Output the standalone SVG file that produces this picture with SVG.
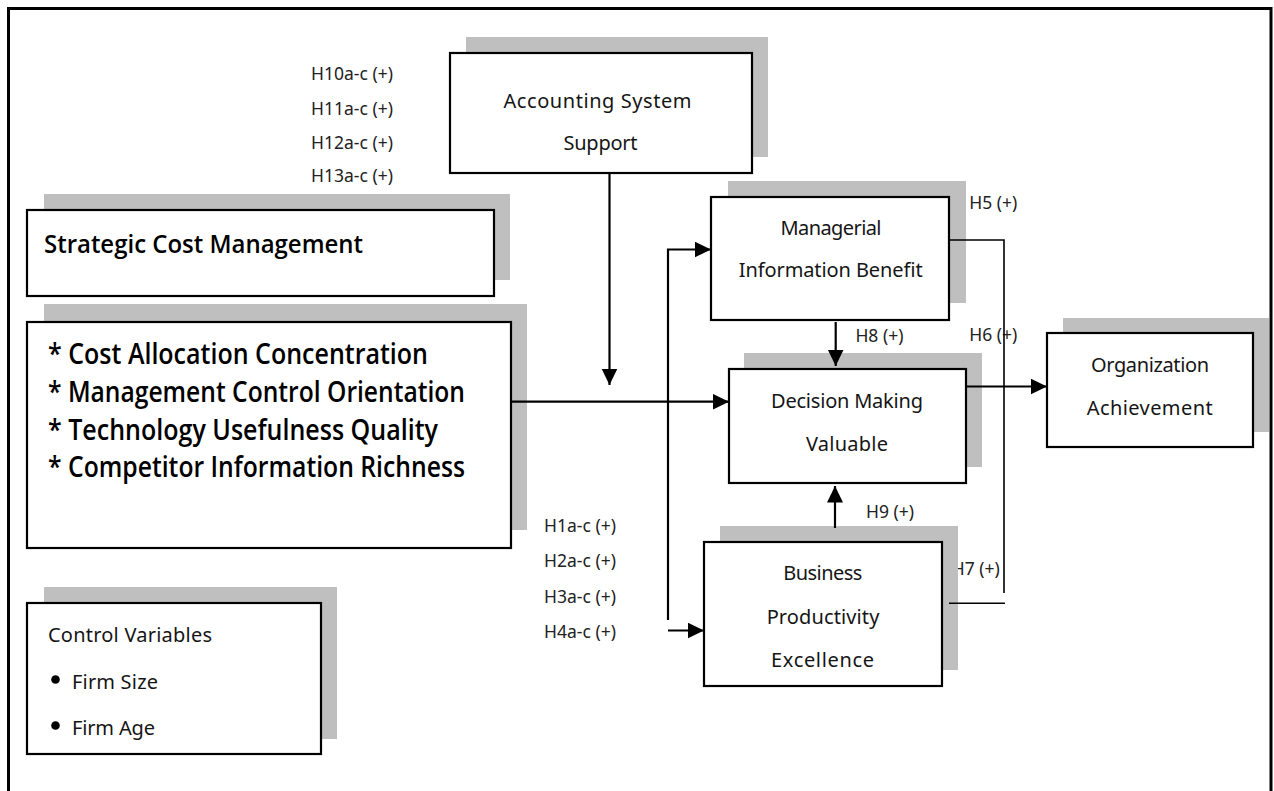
<svg xmlns="http://www.w3.org/2000/svg" width="1274" height="791" viewBox="0 0 1274 791">
  <style>
    .shadow { fill: #bfbfbf; stroke: none; }
    .box { fill: #ffffff; stroke: #000000; stroke-width: 2.2; }
    .txt { font-family: "Noto Sans", "Open Sans", sans-serif; font-size: 20px; fill: #151515; }
    .mid { text-anchor: middle; }
    .lbl { font-family: "Noto Sans", "Open Sans", sans-serif; font-size: 17.5px; fill: #222222; }
    .bold { font-family: "Open Sans", "Noto Sans", sans-serif; font-weight: 600; fill: #000000; }
    .arrow { fill: none; stroke: #000000; stroke-width: 2.2; }
    .thin { fill: none; stroke: #000000; stroke-width: 1.6; }
  </style>
  <defs>
    <marker id="head" markerUnits="userSpaceOnUse" markerWidth="17" markerHeight="17" refX="16.5" refY="8" orient="auto">
      <path d="M0,0 L16.5,8 L0,16 Z" fill="#000000"/>
    </marker>
  </defs>

  <rect width="1274" height="791" fill="#ffffff"/>

  <!-- outer frame (open at the bottom) -->
  <path d="M8.5,791 V8.5 H1271 V791" fill="none" stroke="#000000" stroke-width="3"/>

  <!-- hypothesis labels -->
  <g id="labels">
    <text class="lbl" x="311" y="80">H10a-c (+)</text>
    <text class="lbl" x="311" y="114.5">H11a-c (+)</text>
    <text class="lbl" x="311" y="148.5">H12a-c (+)</text>
    <text class="lbl" x="311" y="182">H13a-c (+)</text>
    <text class="lbl" x="544" y="531.7">H1a-c (+)</text>
    <text class="lbl" x="544" y="567">H2a-c (+)</text>
    <text class="lbl" x="544" y="602.7">H3a-c (+)</text>
    <text class="lbl" x="544" y="637.7">H4a-c (+)</text>
    <text class="lbl" x="969.3" y="209.3">H5 (+)</text>
    <text class="lbl" x="969.3" y="340.5">H6 (+)</text>
    <text class="lbl" x="951.7" y="575">H7 (+)</text>
    <text class="lbl" x="855.4" y="341.7">H8 (+)</text>
    <text class="lbl" x="866" y="517.7">H9 (+)</text>
  </g>

  <g id="accounting-system-support">
    <rect class="shadow" x="466" y="37" width="302" height="120"/>
    <rect class="box" x="450" y="53" width="302" height="120"/>
    <text class="txt mid" x="597.5" y="108" textLength="188">Accounting System</text>
    <text class="txt mid" x="600.5" y="150" textLength="74">Support</text>
  </g>

  <g id="strategic-cost-management">
    <rect class="shadow" x="44" y="194" width="466" height="86"/>
    <rect class="box" x="27" y="210" width="467" height="86"/>
    <text class="bold" x="44" y="253.3" font-size="25" textLength="319" lengthAdjust="spacingAndGlyphs">Strategic Cost Management</text>
  </g>

  <g id="scm-dimensions">
    <rect class="shadow" x="44" y="304" width="483" height="226"/>
    <rect class="box" x="27" y="322" width="484" height="226"/>
    <text class="bold" x="48" y="364" font-size="28" textLength="380" lengthAdjust="spacingAndGlyphs">* Cost Allocation Concentration</text>
    <text class="bold" x="48" y="402" font-size="28" textLength="417" lengthAdjust="spacingAndGlyphs">* Management Control Orientation</text>
    <text class="bold" x="48" y="440" font-size="28" textLength="390" lengthAdjust="spacingAndGlyphs">* Technology Usefulness Quality</text>
    <text class="bold" x="48" y="477.3" font-size="28" textLength="417" lengthAdjust="spacingAndGlyphs">* Competitor Information Richness</text>
  </g>

  <g id="control-variables">
    <rect class="shadow" x="44" y="587" width="293" height="152"/>
    <rect class="box" x="27" y="603" width="294" height="151"/>
    <text class="txt" x="48" y="642" textLength="164">Control Variables</text>
    <circle cx="55.5" cy="679.5" r="4.3" fill="#000000"/>
    <text class="txt" x="72" y="689" textLength="86">Firm Size</text>
    <circle cx="55.5" cy="725.5" r="4.3" fill="#000000"/>
    <text class="txt" x="72" y="735" textLength="83">Firm Age</text>
  </g>

  <g id="managerial-information-benefit">
    <rect class="shadow" x="728" y="181" width="238" height="122"/>
    <rect class="box" x="711" y="197" width="238" height="123"/>
    <text class="txt mid" x="831" y="235" textLength="101">Managerial</text>
    <text class="txt mid" x="830.7" y="277" textLength="184">Information Benefit</text>
  </g>

  <g id="decision-making-valuable">
    <rect class="shadow" x="744" y="353" width="238" height="114"/>
    <rect class="box" x="729" y="369" width="237" height="114"/>
    <text class="txt mid" x="847" y="408" textLength="152">Decision Making</text>
    <text class="txt mid" x="847" y="451" textLength="82">Valuable</text>
  </g>

  <g id="business-productivity-excellence">
    <rect class="shadow" x="720" y="526" width="238" height="144"/>
    <rect class="box" x="704" y="542" width="238" height="144"/>
    <text class="txt mid" x="822.8" y="580" textLength="79">Business</text>
    <text class="txt mid" x="823" y="624" textLength="112.7">Productivity</text>
    <text class="txt mid" x="822.5" y="666.7" textLength="103">Excellence</text>
  </g>

  <g id="organization-achievement">
    <rect class="shadow" x="1063" y="318" width="206" height="114"/>
    <rect class="box" x="1047" y="333" width="206" height="114"/>
    <text class="txt mid" x="1150" y="372" textLength="118">Organization</text>
    <text class="txt mid" x="1149.7" y="415" textLength="126">Achievement</text>
  </g>

  <g id="connectors">
    <!-- moderator arrow from Accounting System Support -->
    <path class="arrow" d="M609.5,173 V385" marker-end="url(#head)"/>
    <!-- SCM dimensions to Decision Making Valuable -->
    <path class="arrow" d="M511,401.7 H729" marker-end="url(#head)"/>
    <!-- branch to Managerial Information Benefit -->
    <path class="arrow" d="M668,620 V249.5 H711" marker-end="url(#head)"/>
    <!-- branch to Business Productivity Excellence -->
    <path class="arrow" d="M668,630.5 H704" marker-end="url(#head)"/>
    <!-- H8 and H9 -->
    <path class="arrow" d="M835.7,322 V366" marker-end="url(#head)"/>
    <path class="arrow" d="M835,528 V486" marker-end="url(#head)"/>
    <!-- Decision Making Valuable to Organization Achievement -->
    <path class="arrow" d="M966,386.5 H1047" marker-end="url(#head)"/>
    <!-- H5 / H7 paths -->
    <path class="thin" d="M949,240 H1004 V593"/>
    <path class="thin" d="M949,603.3 H1005"/>
  </g>
</svg>
